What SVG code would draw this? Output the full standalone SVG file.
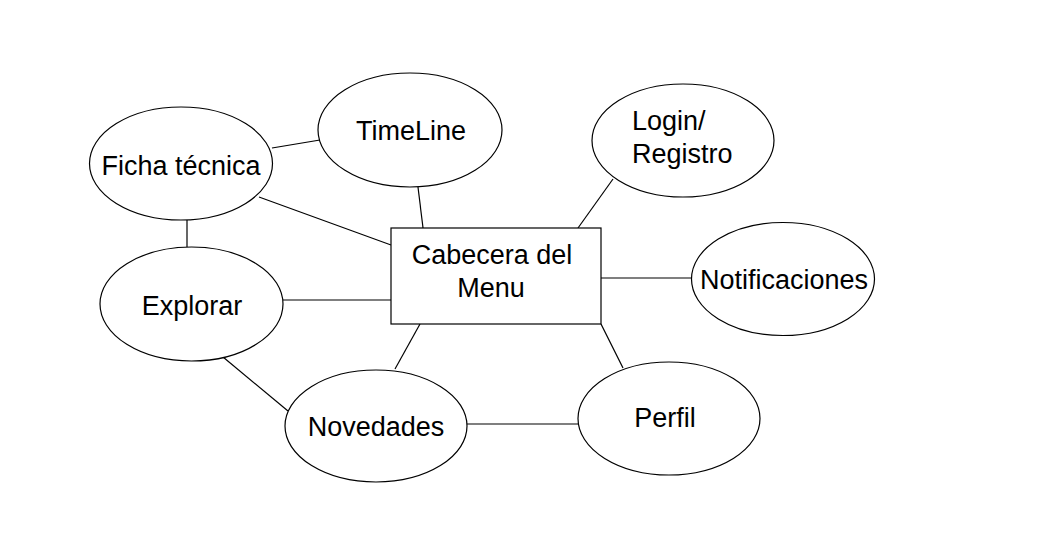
<svg xmlns="http://www.w3.org/2000/svg" width="1045" height="551" viewBox="0 0 1045 551">
<style>
.n{fill:#fff;stroke:#000;stroke-width:1.2}
.c line{stroke:#000;stroke-width:1.2}
text{font-family:"Liberation Sans",Arial,sans-serif;font-size:27px;fill:#000}
.m{text-anchor:middle}
</style>
<rect width="1045" height="551" fill="#fff"/>
<g class="c" id="connectors">
<line x1="272" y1="148" x2="320" y2="140"/>
<line x1="259" y1="197" x2="391" y2="245"/>
<line x1="187" y1="220" x2="187" y2="247"/>
<line x1="418" y1="187" x2="423" y2="228"/>
<line x1="613" y1="179" x2="578" y2="228"/>
<line x1="601" y1="278" x2="692" y2="278"/>
<line x1="283" y1="300" x2="391" y2="300"/>
<line x1="223" y1="357" x2="288" y2="411"/>
<line x1="420" y1="324" x2="395" y2="369"/>
<line x1="601" y1="324" x2="623" y2="368"/>
<line x1="467" y1="424" x2="579" y2="424"/>
</g>
<g id="ficha"><ellipse class="n" cx="181" cy="163.5" rx="91.5" ry="56.5"/><text class="m" x="181" y="175">Ficha técnica</text></g>
<g id="timeline"><ellipse class="n" cx="410" cy="130" rx="92" ry="57"/><text class="m" x="411" y="140">TimeLine</text></g>
<g id="login"><ellipse class="n" cx="683" cy="140.5" rx="91" ry="56.5"/><text x="632" y="130">Login/</text><text x="632" y="163">Registro</text></g>
<g id="cabecera"><rect class="n" x="391" y="228" width="210" height="96"/><text class="m" x="492" y="264">Cabecera del</text><text class="m" x="491" y="297">Menu</text></g>
<g id="notificaciones"><ellipse class="n" cx="783" cy="279" rx="91.5" ry="56.5"/><text class="m" x="784" y="289">Notificaciones</text></g>
<g id="explorar"><ellipse class="n" cx="191.5" cy="304" rx="91.5" ry="57"/><text class="m" x="192" y="315">Explorar</text></g>
<g id="novedades"><ellipse class="n" cx="376" cy="426" rx="91" ry="56"/><text class="m" x="376" y="436">Novedades</text></g>
<g id="perfil"><ellipse class="n" cx="669" cy="418.5" rx="91" ry="56.5"/><text class="m" x="665" y="427">Perfil</text></g>
</svg>
